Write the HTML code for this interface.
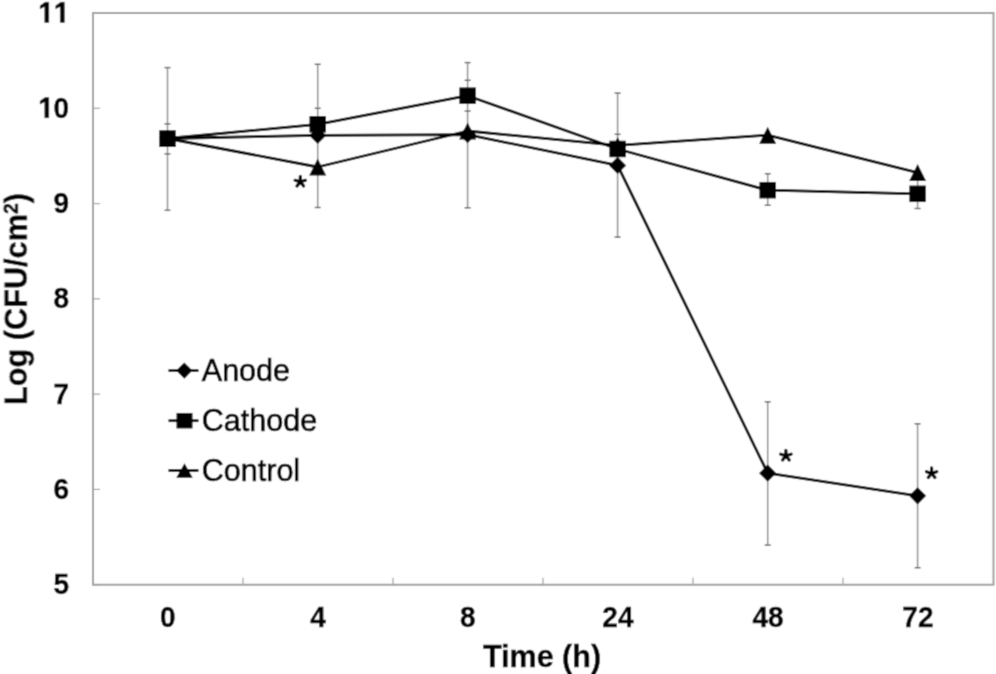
<!DOCTYPE html>
<html><head><meta charset="utf-8"><style>
html,body{margin:0;padding:0;background:#fff;}
body{width:996px;height:674px;overflow:hidden;}
svg{display:block;}
text{font-family:"Liberation Sans",sans-serif;fill:#000;}
.tk{font-size:29.5px;font-weight:bold;stroke:#000;stroke-width:0.4px;}
.ttl{font-size:30.5px;font-weight:bold;stroke:#000;stroke-width:0.4px;}
.sup{font-size:19.5px;}
.leg{font-size:30.5px;stroke:#000;stroke-width:0.7px;}
.ast{font-size:36px;}
</style></head><body>
<svg width="996" height="674" viewBox="0 0 996 674">
<defs><filter id="bl" x="0" y="0" width="996" height="674" filterUnits="userSpaceOnUse"><feConvolveMatrix order="3" kernelMatrix="1 4 1 4 16 4 1 4 1" divisor="36" edgeMode="duplicate"/></filter></defs>
<g filter="url(#bl)">
<rect width="996" height="674" fill="#fff"/>
<path d="M93 13H993.5V584.7H93Z" fill="none" stroke="#a0a0a0" stroke-width="2"/>
<path d="M93 13h7" stroke="#a0a0a0" stroke-width="1.2"/>
<path d="M93 108.28h7" stroke="#a0a0a0" stroke-width="1.2"/>
<path d="M93 203.57h7" stroke="#a0a0a0" stroke-width="1.2"/>
<path d="M93 298.85h7" stroke="#a0a0a0" stroke-width="1.2"/>
<path d="M93 394.13h7" stroke="#a0a0a0" stroke-width="1.2"/>
<path d="M93 489.42h7" stroke="#a0a0a0" stroke-width="1.2"/>
<path d="M93 584.7h7" stroke="#a0a0a0" stroke-width="1.2"/>
<path d="M243 584.7v-7" stroke="#a0a0a0" stroke-width="1.2"/>
<path d="M393 584.7v-7" stroke="#a0a0a0" stroke-width="1.2"/>
<path d="M543 584.7v-7" stroke="#a0a0a0" stroke-width="1.2"/>
<path d="M693 584.7v-7" stroke="#a0a0a0" stroke-width="1.2"/>
<path d="M843 584.7v-7" stroke="#a0a0a0" stroke-width="1.2"/>
<path d="M167.5 67.6V210.3" stroke="#969696" stroke-width="1.6"/>
<path d="M164.5 67.6h6" stroke="#6e6e6e" stroke-width="1.5"/>
<path d="M164.5 123.9h6" stroke="#6e6e6e" stroke-width="1.5"/>
<path d="M164.5 153.9h6" stroke="#6e6e6e" stroke-width="1.5"/>
<path d="M164.5 210.3h6" stroke="#6e6e6e" stroke-width="1.5"/>
<path d="M317.7 64.3V207.5" stroke="#969696" stroke-width="1.6"/>
<path d="M314.7 64.3h6" stroke="#6e6e6e" stroke-width="1.5"/>
<path d="M314.7 108.3h6" stroke="#6e6e6e" stroke-width="1.5"/>
<path d="M314.7 207.5h6" stroke="#6e6e6e" stroke-width="1.5"/>
<path d="M467.6 62.6V207.8" stroke="#969696" stroke-width="1.6"/>
<path d="M464.6 62.6h6" stroke="#6e6e6e" stroke-width="1.5"/>
<path d="M464.6 80.3h6" stroke="#6e6e6e" stroke-width="1.5"/>
<path d="M464.6 111.1h6" stroke="#6e6e6e" stroke-width="1.5"/>
<path d="M464.6 207.8h6" stroke="#6e6e6e" stroke-width="1.5"/>
<path d="M617.6 93.1V237.1" stroke="#969696" stroke-width="1.6"/>
<path d="M614.6 93.1h6" stroke="#6e6e6e" stroke-width="1.5"/>
<path d="M614.6 134.3h6" stroke="#6e6e6e" stroke-width="1.5"/>
<path d="M614.6 237.1h6" stroke="#6e6e6e" stroke-width="1.5"/>
<path d="M767.7 173.7V205.2" stroke="#969696" stroke-width="1.6"/>
<path d="M764.7 173.7h6" stroke="#6e6e6e" stroke-width="1.5"/>
<path d="M764.7 205.2h6" stroke="#6e6e6e" stroke-width="1.5"/>
<path d="M767.7 401.8V545.1" stroke="#969696" stroke-width="1.6"/>
<path d="M764.7 401.8h6" stroke="#6e6e6e" stroke-width="1.5"/>
<path d="M764.7 545.1h6" stroke="#6e6e6e" stroke-width="1.5"/>
<path d="M917.6 180V208.5" stroke="#969696" stroke-width="1.6"/>
<path d="M914.6 208.5h6" stroke="#6e6e6e" stroke-width="1.5"/>
<path d="M917.6 423.8V567.7" stroke="#969696" stroke-width="1.6"/>
<path d="M914.6 423.8h6" stroke="#6e6e6e" stroke-width="1.5"/>
<path d="M914.6 567.7h6" stroke="#6e6e6e" stroke-width="1.5"/>
<polyline points="167.5,138.5 317.7,167 467.6,131 617.6,145.4 767.7,135.2 917.6,172.6" fill="none" stroke="#000" stroke-width="2.8" stroke-linejoin="round"/>
<polyline points="167.5,138.5 317.7,124.3 467.6,95.7 617.6,149 767.7,190.2 917.6,193.8" fill="none" stroke="#000" stroke-width="2.8" stroke-linejoin="round"/>
<polyline points="167.5,138.5 317.7,135.4 467.6,134.6 617.6,165.4 767.7,473.2 917.6,495.8" fill="none" stroke="#000" stroke-width="2.8" stroke-linejoin="round"/>
<path d="M167.5 130L176 147L159 147Z" fill="#000"/>
<path d="M317.7 158.5L326.2 175.5L309.2 175.5Z" fill="#000"/>
<path d="M467.6 122.5L476.1 139.5L459.1 139.5Z" fill="#000"/>
<path d="M617.6 136.9L626.1 153.9L609.1 153.9Z" fill="#000"/>
<path d="M767.7 126.7L776.2 143.7L759.2 143.7Z" fill="#000"/>
<path d="M917.6 164.1L926.1 181.1L909.1 181.1Z" fill="#000"/>
<rect x="159.25" y="130.25" width="16.5" height="16.5" fill="#000"/>
<rect x="309.45" y="116.05" width="16.5" height="16.5" fill="#000"/>
<rect x="459.35" y="87.45" width="16.5" height="16.5" fill="#000"/>
<rect x="609.35" y="140.75" width="16.5" height="16.5" fill="#000"/>
<rect x="759.45" y="181.95" width="16.5" height="16.5" fill="#000"/>
<rect x="909.35" y="185.55" width="16.5" height="16.5" fill="#000"/>
<path d="M167.5 129.9L176.1 138.5L167.5 147.1L158.9 138.5Z" fill="#000"/>
<path d="M317.7 126.8L326.3 135.4L317.7 144L309.1 135.4Z" fill="#000"/>
<path d="M467.6 126L476.2 134.6L467.6 143.2L459 134.6Z" fill="#000"/>
<path d="M617.6 156.8L626.2 165.4L617.6 174L609 165.4Z" fill="#000"/>
<path d="M767.7 464.6L776.3 473.2L767.7 481.8L759.1 473.2Z" fill="#000"/>
<path d="M917.6 487.2L926.2 495.8L917.6 504.4L909 495.8Z" fill="#000"/>
<path d="M168.5 370.6H198.5" stroke="#000" stroke-width="2.8"/>
<path d="M184.3 362.4L192.5 370.6L184.3 378.8L176.1 370.6Z" fill="#000"/>
<text x="201.8" y="381.1" class="leg">Anode</text>
<path d="M168.5 420.7H198.5" stroke="#000" stroke-width="2.8"/>
<rect x="176.5" y="412.95" width="16" height="15.5" fill="#000"/>
<text x="201.8" y="431.2" class="leg">Cathode</text>
<path d="M168.5 470.5H198.5" stroke="#000" stroke-width="2.8"/>
<path d="M184.5 463.25L192.75 477.75L176.25 477.75Z" fill="#000"/>
<text x="201.8" y="481" class="leg">Control</text>
<path d="M40.15 8.82L40.15 5.65L45.08 2.2L48.77 2.2L48.77 22.5L44.74 22.5L44.74 6.51Z" fill="#000" stroke="#000" stroke-width="0.4" stroke-linejoin="round"/>
<path d="M55.74 8.82L55.74 5.65L60.67 2.2L64.36 2.2L64.36 22.5L60.32 22.5L60.32 6.51Z" fill="#000" stroke="#000" stroke-width="0.4" stroke-linejoin="round"/>
<path d="M40.15 104.1L40.15 100.93L45.08 97.49L48.77 97.49L48.77 117.78L44.74 117.78L44.74 101.79Z" fill="#000" stroke="#000" stroke-width="0.4" stroke-linejoin="round"/>
<text transform="translate(69 117.78) scale(0.95 1)" class="tk" text-anchor="end">0</text>
<text transform="translate(69 213.07) scale(0.95 1)" class="tk" text-anchor="end">9</text>
<text transform="translate(69 308.35) scale(0.95 1)" class="tk" text-anchor="end">8</text>
<text transform="translate(69 403.63) scale(0.95 1)" class="tk" text-anchor="end">7</text>
<text transform="translate(69 498.92) scale(0.95 1)" class="tk" text-anchor="end">6</text>
<text transform="translate(69 594.2) scale(0.95 1)" class="tk" text-anchor="end">5</text>
<text transform="translate(167.8 627.3) scale(0.95 1)" class="tk" text-anchor="middle">0</text>
<text transform="translate(318 627.3) scale(0.95 1)" class="tk" text-anchor="middle">4</text>
<text transform="translate(467.9 627.3) scale(0.95 1)" class="tk" text-anchor="middle">8</text>
<text transform="translate(617.9 627.3) scale(0.95 1)" class="tk" text-anchor="middle">24</text>
<text transform="translate(768 627.3) scale(0.95 1)" class="tk" text-anchor="middle">48</text>
<text transform="translate(917.9 627.3) scale(0.95 1)" class="tk" text-anchor="middle">72</text>
<text x="483" y="666.5" class="ttl">Time (h)</text>
<text transform="translate(26.7 405) rotate(-90)" class="ttl" style="font-size:30.7px">Log (CFU/cm<tspan class="sup" dy="-8.9">2</tspan><tspan dy="8.9">)</tspan></text>
<path d="M300.3 181.8L300.3 176.4M300.3 181.8L305.49 180.31M300.3 181.8L303.62 186.06M300.3 181.8L296.98 186.06M300.3 181.8L295.11 180.31" stroke="#000" stroke-width="3.2" stroke-linecap="round" fill="none"/>
<path d="M785.9 455.7L785.9 450.3M785.9 455.7L791.09 454.21M785.9 455.7L789.22 459.96M785.9 455.7L782.58 459.96M785.9 455.7L780.71 454.21" stroke="#000" stroke-width="3.2" stroke-linecap="round" fill="none"/>
<path d="M931.6 473.2L931.6 467.8M931.6 473.2L936.79 471.71M931.6 473.2L934.92 477.46M931.6 473.2L928.28 477.46M931.6 473.2L926.41 471.71" stroke="#000" stroke-width="3.2" stroke-linecap="round" fill="none"/>
</g>
</svg>
</body></html>
